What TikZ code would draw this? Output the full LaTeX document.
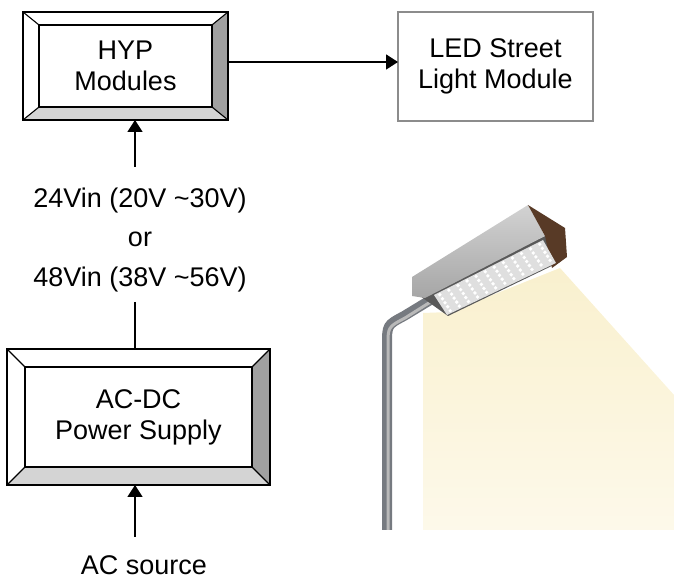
\documentclass[tikz,border=0pt]{standalone}
\usepackage{fontspec}
\setmainfont{Liberation Sans}
\usetikzlibrary{arrows.meta}

\definecolor{bevelside}{RGB}{160,160,160}
\definecolor{bevelbase}{RGB}{212,212,212}
\definecolor{ledframe}{RGB}{140,140,140}
\definecolor{beamtop}{RGB}{249,240,206}
\definecolor{beambottom}{RGB}{253,249,234}
\definecolor{lampend}{RGB}{88,58,38}
\definecolor{polegray}{RGB}{118,122,128}

% bevelled frame round a node: #1 node, #2 side width, #3 top/bottom width
\newcommand\bevelframe[3]{%
  \fill[white] (#1.north west) -- (#1.north east) -- ([shift={(-#2pt,-#3pt)}]#1.north east) -- ([shift={(#2pt,-#3pt)}]#1.north west) -- cycle;
  \fill[bevelside] (#1.north east) -- (#1.south east) -- ([shift={(-#2pt,#3pt)}]#1.south east) -- ([shift={(-#2pt,-#3pt)}]#1.north east) -- cycle;
  \fill[bevelbase] (#1.south west) -- (#1.south east) -- ([shift={(-#2pt,#3pt)}]#1.south east) -- ([shift={(#2pt,#3pt)}]#1.south west) -- cycle;
  \draw[line width=1.3pt] ([shift={(#2pt,-#3pt)}]#1.north west) rectangle ([shift={(-#2pt,#3pt)}]#1.south east);
  \draw[line width=1.1pt] (#1.north west) -- ([shift={(#2pt,-#3pt)}]#1.north west)
    (#1.north east) -- ([shift={(-#2pt,-#3pt)}]#1.north east)
    (#1.south west) -- ([shift={(#2pt,#3pt)}]#1.south west)
    (#1.south east) -- ([shift={(-#2pt,#3pt)}]#1.south east);
  \draw[line width=1.8pt] (#1.north west) rectangle (#1.south east);
}

\begin{document}
\begin{tikzpicture}[x=1pt,y=1pt,
  every node/.style={align=center, font=\fontsize{27}{31}\selectfont},
  bevel box/.style={inner sep=0pt, outer sep=0pt},
  plain box/.style={draw=ledframe, line width=1.4pt, inner sep=0pt, outer sep=0pt},
  link/.style={line width=1.6pt, -{Triangle[length=12pt,width=15pt]}},
  wire/.style={line width=1.6pt}]
  \useasboundingbox (0,0) rectangle (674,583);

  % light beam
  \shade[top color=beamtop, bottom color=beambottom] (423,270) -- (423,53) -- (674,53) -- (674,188) -- (560,315) -- (450,271) -- cycle;

  % pole
  \draw[polegray, line width=10pt] (387,53) -- (387,238) .. controls (387,258) .. (404,267) -- (432,284);
  \draw[gray!55, line width=3pt] (388,53) -- (388,238) .. controls (388,256) .. (405,265) -- (432,282);

  % lamp head
  \fill[gray!70!black] (420,287) -- (545,347) -- (560,321) -- (448,267) -- cycle;
  \shade[top color=gray!35, bottom color=gray!70] (412,306) -- (528,378) -- (545,347) -- (425,285) -- (412,287) -- cycle;
  \fill[lampend] (528,378) -- (565,355) -- (567,326) -- (552,315) -- (545,347) -- cycle;
  \fill[gray!25] (434,288) -- (543,343) -- (556,320) -- (447,268) -- cycle;
  \foreach \i in {0,...,11}
    \foreach \j in {0,...,4}
      \fill[white] ({434+(\i+0.5)*9.08+(\j+0.5)*2.6}, {288+(\i+0.5)*4.58-(\j+0.5)*4}) circle (1.9pt);

  % blocks
  \node[bevel box, minimum width=205pt, minimum height=108pt] (hyp) at (125.5,517) {HYP\\Modules};
  \bevelframe{hyp}{16}{13}
  \node[plain box, minimum width=195pt, minimum height=109pt] (led) at (495.5,516.5) {LED Street\\Light Module};
  \node[bevel box, minimum width=263pt, minimum height=136pt] (acdc) at (138.5,166) {AC-DC\\Power Supply};
  \bevelframe{acdc}{18}{18}

  % labels
  \node[font=\fontsize{27}{39.5}\selectfont] (vin) at (140,343) {24Vin (20V \textasciitilde30V)\\or\\48Vin (38V \textasciitilde56V)};
  \node (ac) at (144,18) {AC source};

  % connectors
  \draw[link] ([yshift=4pt]hyp.east) -- ([yshift=4pt]hyp.east -| led.west);
  \coordinate (vintop) at (135,416);
  \draw[link] (vintop) -- (vintop |- hyp.south);
  \coordinate (vinbot) at (135,281);
  \draw[wire] (vinbot) -- (vinbot |- acdc.north);
  \coordinate (actop) at (135,46);
  \draw[link] (actop) -- (actop |- acdc.south);
\end{tikzpicture}
\end{document}
